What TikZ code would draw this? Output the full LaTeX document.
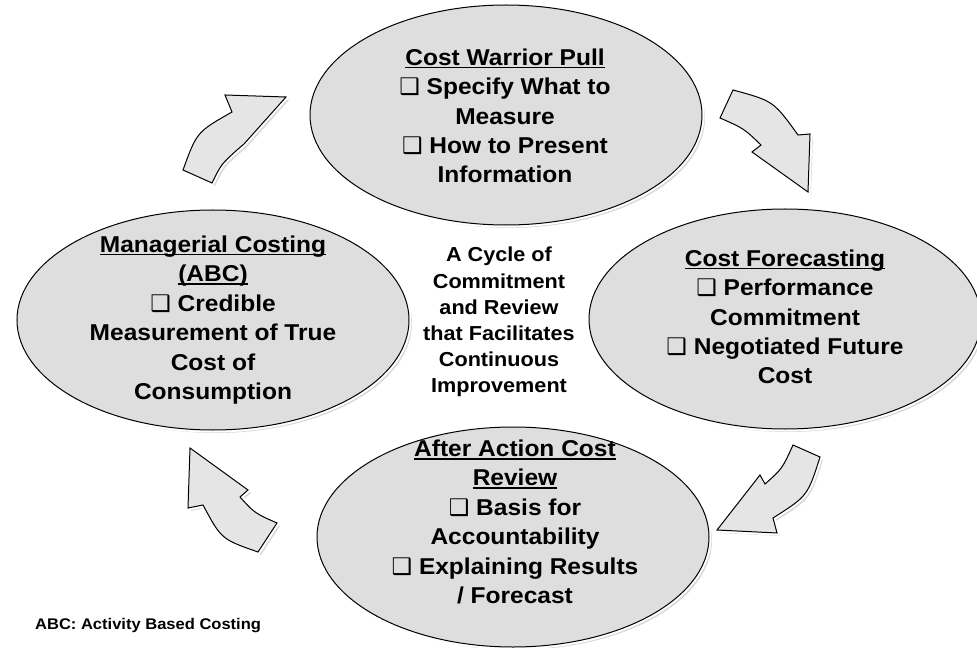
\documentclass[tikz,border=0pt]{standalone}
\usepackage{fontspec}
\setmainfont{Liberation Sans}[FakeStretch=1.07]
\newfontfamily\boxfont{DejaVu Sans}
\usetikzlibrary{shapes.geometric,shadows}
\newcommand{\chk}{{\boxfont\symbol{"2751}}\ }
\newsavebox{\ulbox}
\newcommand{\uln}[1]{\sbox{\ulbox}{#1}\rlap{\rule[-3pt]{\wd\ulbox}{1.6pt}}\usebox{\ulbox}}

\begin{document}
\begin{tikzpicture}[x=1bp,y=-1bp,
  phase/.style={ellipse,draw=black,line width=1bp,fill=black!13,
    minimum width=392bp,minimum height=220bp,
    drop shadow={opacity=0.3,shadow xshift=3bp,shadow yshift=-3bp},
    preaction={draw=white,line width=5bp}},
  phasetext/.style={align=center,inner sep=0pt,font=\bfseries\fontsize{23}{29.5}\selectfont},
  turnarrow/.style={fill=black!10,draw=black,line width=1bp,line join=miter,
    drop shadow={opacity=0.3,shadow xshift=3bp,shadow yshift=-3bp},
    preaction={draw=white,line width=5bp}}]
\useasboundingbox[fill=white] (0,0) rectangle (977,648);

% the four stages
\node[phase] (pull) at (506,115) {};
\node[phase] (fcst) at (785,319) {};
\node[phase] (review) at (513,537) {};
\node[phase] (abc) at (213,320) {};

\node[phasetext] (pulltxt) at (505,116) {\uln{Cost Warrior Pull}\\\chk Specify What to\\Measure\\\chk How to Present\\Information};
\node[phasetext] (fcsttxt) at (785,317) {\uln{Cost Forecasting}\\\chk Performance\\Commitment\\\chk Negotiated Future\\Cost};
\node[phasetext] (reviewtxt) at (515,522) {\uln{After Action Cost}\\\uln{Review}\\\chk Basis for\\Accountability\\\chk Explaining Results\\/ Forecast};
\node[phasetext] (abctxt) at (213,320) {\uln{Managerial Costing}\\\uln{(ABC)}\\\chk Credible\\Measurement of True\\Cost of\\Consumption};

\node[align=center,inner sep=0pt,font=\bfseries\fontsize{20.3}{26.2}\selectfont] (cycle) at (499,322)
  {A Cycle of\\Commitment\\and Review\\that Facilitates\\Continuous\\Improvement};

% block arrows, clockwise
\draw[turnarrow] (183,170) .. controls (196.8,132) .. (232,112) -- (225,95) -- (286,97) -- (244,144) -- (237,150) .. controls (221.2,164.3) .. (212,183) -- cycle;
\draw[turnarrow] (733,90) .. controls (773.5,101) .. (798,135) -- (810,134) -- (808,192) -- (752,152) -- (761,145) .. controls (743.8,128.4) .. (720,118) -- cycle;
\draw[turnarrow] (820,457) .. controls (807.6,496) .. (773,518) -- (777,533) -- (717,530) -- (760,475) -- (765,484) .. controls (782.1,468.9) .. (793,445) -- cycle;
\draw[turnarrow] (258,552) .. controls (221.4,539.2) .. (203,505) -- (188,508) -- (190,448) -- (248,490) -- (240,497) .. controls (254.6,513.1) .. (277,523) -- cycle;

\node[anchor=west,inner sep=0pt,font=\bfseries\fontsize{15.5}{18}\selectfont] (note) at (35,626) {ABC: Activity Based Costing};
\end{tikzpicture}
\end{document}
